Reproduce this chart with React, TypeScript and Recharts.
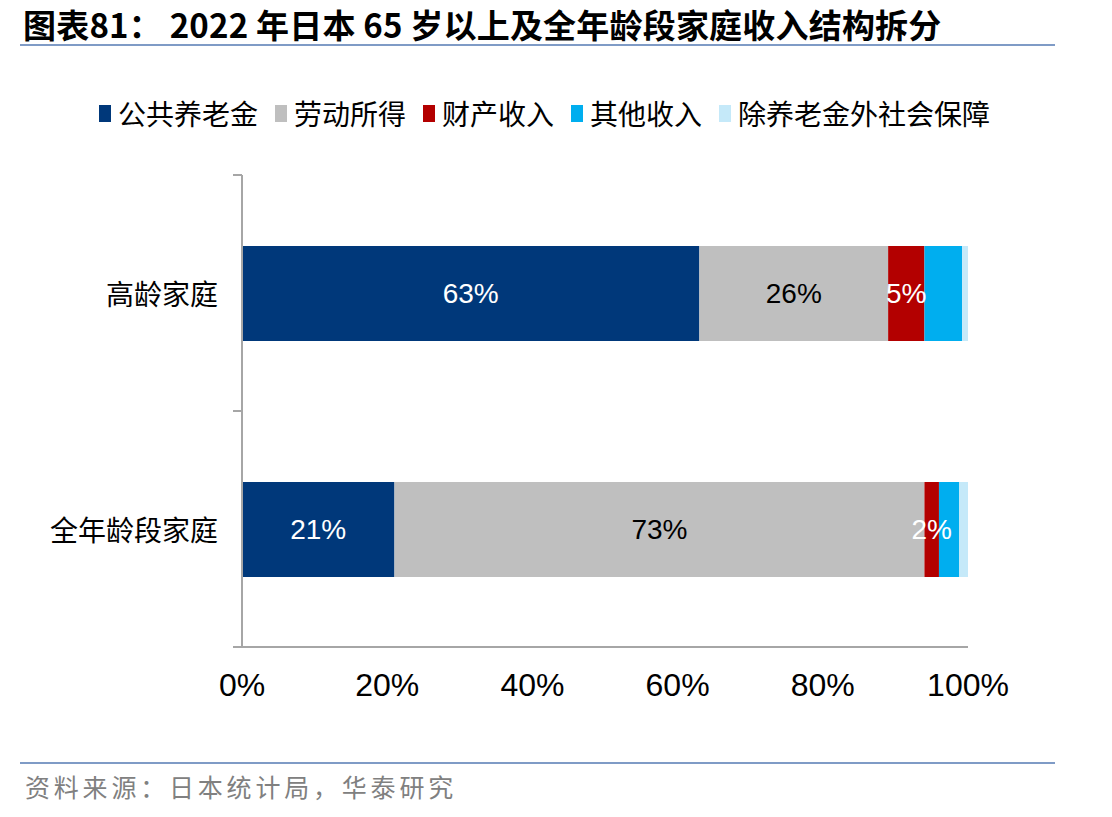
import React from 'react';
import { BarChart, Bar, XAxis, YAxis, LabelList, Legend } from 'recharts';

// Household groups (top to bottom)
const categories = ['高龄家庭', '全年龄段家庭'];

// Income structure, % of household income
const publicPension = [63, 21];
const laborIncome = [26, 73];
const propertyIncome = [5, 2];
const otherIncome = [5.2, 2.8];
const otherSocialSecurity = [0.8, 1.2];

const seriesNames = ['公共养老金', '劳动所得', '财产收入', '其他收入', '除养老金外社会保障'];
const seriesColors = ['#00387A', '#BFBFBF', '#B30000', '#00AEEF', '#C5E9F9'];
const labelColors = ['#FFFFFF', '#000000', '#FFFFFF'];
const xTicks = [0, 20, 40, 60, 80, 100];

const titleText = '图表81： 2022 年日本 65 岁以上及全年龄段家庭收入结构拆分';
const sourceText = '资料来源：日本统计局，华泰研究';

const seriesValues = [publicPension, laborIncome, propertyIncome, otherIncome, otherSocialSecurity];
const seriesKeys = ['s0', 's1', 's2', 's3', 's4'];

const data = categories.map((name, i) => {
  const row: Record<string, string | number> = { name };
  seriesKeys.forEach((k, j) => {
    row[k] = seriesValues[j][i];
  });
  return row;
});

const LATIN = '"Liberation Sans", Arial, sans-serif';
const CJK = '"Noto Sans CJK SC", "Noto Sans", sans-serif';
const AXIS_GREY = '#A6A6A6';
const CAT_TICK_MARGIN = 24;
const EDGE_TICK = 9;

// Legend in series order
const renderLegend = (props: any) => {
  const payload = [...(props.payload || [])].sort(
    (a: any, b: any) => seriesNames.indexOf(a.value) - seriesNames.indexOf(b.value)
  );
  return (
    <div style={{ display: 'flex', alignItems: 'center', fontFamily: CJK, fontSize: 28, color: '#000', lineHeight: 1 }}>
      {payload.map((entry: any, i: number) => (
        <div key={i} style={{ display: 'flex', alignItems: 'center', marginRight: 17 }}>
          <span style={{ display: 'inline-block', width: 12, height: 17, background: entry.color, marginRight: 7 }} />
          <span>{entry.value}</span>
        </div>
      ))}
    </div>
  );
};

// Category label plus short tick marks on the band boundaries
const CategoryTick = (props: any) => {
  const { x, y, payload, index, visibleTicksCount } = props;
  const half = payload.offset || 0;
  const axisX = x + CAT_TICK_MARGIN;
  const isLast = index === visibleTicksCount - 1;
  return (
    <g>
      <line x1={axisX - EDGE_TICK} x2={axisX} y1={y - half} y2={y - half} stroke={AXIS_GREY} strokeWidth={2} />
      {isLast && (
        <line x1={axisX - EDGE_TICK} x2={axisX} y1={y + half} y2={y + half} stroke={AXIS_GREY} strokeWidth={2} />
      )}
      <text
        x={x}
        y={y}
        textAnchor="end"
        dominantBaseline="central"
        style={{ fontFamily: CJK, fontSize: 28, fill: '#000' }}
      >
        {payload.value}
      </text>
    </g>
  );
};

export default function App() {
  return (
    <div style={{ position: 'absolute', left: 0, top: 0, width: 1112, height: 817, background: '#fff', overflow: 'hidden' }}>
      <div
        style={{
          position: 'absolute',
          left: 23,
          top: 5,
          fontFamily: CJK,
          fontWeight: 700,
          fontSize: 33,
          letterSpacing: 0.2,
          lineHeight: '38px',
          color: '#000',
          whiteSpace: 'nowrap',
        }}
      >
        {titleText}
      </div>
      <div style={{ position: 'absolute', left: 20, top: 44, width: 1035, height: 2, background: '#7F9BC6' }} />

      <div style={{ position: 'absolute', left: 0, top: 0 }}>
        <BarChart
          layout="vertical"
          width={1112}
          height={817}
          data={data}
          margin={{ top: 175, right: 144, bottom: 110, left: 0 }}
          barSize={95}
        >
          <XAxis
            type="number"
            domain={[0, 100]}
            ticks={xTicks}
            tickFormatter={(v: number) => `${v}%`}
            height={60}
            tickLine={false}
            tickSize={0}
            tickMargin={26}
            axisLine={{ stroke: AXIS_GREY, strokeWidth: 2 }}
            tick={{ fontFamily: LATIN, fontSize: 32, fill: '#000' }}
            interval={0}
          />
          <YAxis
            type="category"
            dataKey="name"
            width={242}
            tickLine={false}
            tickSize={0}
            tickMargin={CAT_TICK_MARGIN}
            axisLine={{ stroke: AXIS_GREY, strokeWidth: 2 }}
            tick={<CategoryTick />}
            interval={0}
          />
          <Legend
            layout="horizontal"
            verticalAlign="middle"
            align="center"
            content={renderLegend}
            wrapperStyle={{ position: 'absolute', left: 99, top: 99, width: 1000, height: 34 }}
          />
          {seriesKeys.map((k, j) => (
            <Bar
              key={k}
              dataKey={k}
              name={seriesNames[j]}
              stackId="income"
              fill={seriesColors[j]}
              isAnimationActive={false}
            >
              {j < 3 && (
                <LabelList
                  dataKey={k}
                  position="center"
                  formatter={(v: any) => `${v}%`}
                  fill={labelColors[j]}
                  style={{ fontFamily: LATIN, fontSize: 28, fill: labelColors[j] }}
                />
              )}
            </Bar>
          ))}
        </BarChart>
      </div>

      <div style={{ position: 'absolute', left: 20, top: 762, width: 1035, height: 2, background: '#7F9BC6' }} />
      <div
        style={{
          position: 'absolute',
          left: 25,
          top: 771,
          fontFamily: CJK,
          fontSize: 25,
          letterSpacing: 3.8,
          lineHeight: '30px',
          color: '#808080',
          whiteSpace: 'nowrap',
        }}
      >
        {sourceText}
      </div>
    </div>
  );
}
